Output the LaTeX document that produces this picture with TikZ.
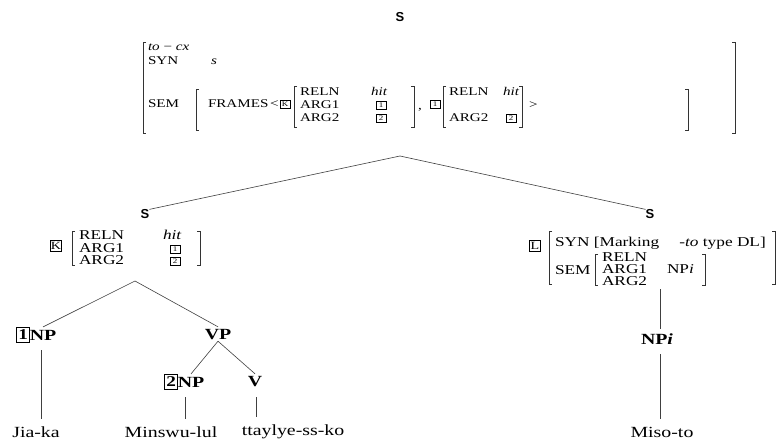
\documentclass[tikz,border=0pt]{standalone}
\usepackage{fontspec}
\setmainfont{Liberation Serif}[FakeStretch=1.28]
\newfontfamily\sansb{Liberation Sans}
\newcommand\myLB[3]{\draw[brk] (#1+3,#2) -- (#1,#2) -- (#1,#3) -- (#1+3,#3);}
\newcommand\myRB[3]{\draw[brk] (#1-3,#2) -- (#1,#2) -- (#1,#3) -- (#1-3,#3);}
\begin{document}
\begin{tikzpicture}[x=1pt,y=-1pt,
 every node/.style={inner sep=0pt, outer sep=0pt},
 sm/.style={font=\fontsize{11.8}{13}\selectfont, anchor=west, text height=8pt, text depth=1.5pt},
 md/.style={font=\fontsize{13.5}{14}\selectfont, anchor=west, text height=8.5pt, text depth=1.5pt},
 cat/.style={font=\fontsize{15.5}{16}\selectfont\bfseries},
 word/.style={font=\fontsize{15.5}{16}\selectfont},
 ssym/.style={font=\sansb\fontsize{13}{14}\selectfont\bfseries},
 tagsm/.style={draw, line width=0.5pt, font=\fontsize{7}{7}\selectfont, minimum width=10pt, minimum height=8pt, inner sep=0.5pt},
 tagmd/.style={draw, line width=0.6pt, font=\fontsize{11}{11}\selectfont, minimum width=11pt, minimum height=11pt},
 tagbg/.style={draw, line width=0.8pt, font=\fontsize{15}{15}\selectfont\bfseries, minimum width=13pt, minimum height=15pt},
 brk/.style={line width=0.7pt, draw=black!80},
 edge/.style={line width=0.6pt, draw=black!75}]
\useasboundingbox[fill=white] (0,0) rectangle (779,441);

% top S
\node[ssym] (topS) at (400,17) {S};

% top AVM
\myLB{143}{42}{133}
\myRB{735}{42}{133}
\node[sm] (tocx) at (148,47) {\textit{to} − \textit{cx}};
\node[sm] (tsyn) at (148,61) {SYN};
\node[sm] (ts) at (211,61) {\textit{s}};
\node[sm] (tsem) at (148,104) {SEM};
\myLB{196}{89}{130}
\node[sm] (frames) at (208,104) {FRAMES};
\node[sm] (lt) at (270,104) {<};
\node[tagsm] (tK) at (285,104) {K};
\myLB{294}{86}{127}
\node[sm] (r1) at (300,92) {RELN};
\node[sm] (h1) at (371,92) {\textit{hit}};
\node[sm] (a11) at (300,105) {ARG1};
\node[tagsm] (t11) at (381,105) {1};
\node[sm] (a12) at (300,118) {ARG2};
\node[tagsm] (t12) at (381,118) {2};
\myRB{414}{86}{127}
\node[sm] (comma) at (418,106) {,};
\node[tagsm] (tL) at (435,104) {1};
\myLB{443}{86}{127}
\node[sm] (r2) at (449,92) {RELN};
\node[sm] (h2) at (503,92) {\textit{hit}};
\node[sm] (a22) at (449,118) {ARG2};
\node[tagsm] (t22) at (511,118) {2};
\myRB{522}{86}{127}
\node[sm] (gt) at (529,105) {>};
\myRB{688}{89}{130}
\coordinate (tavm) at (400,156);

% left S
\node[ssym] (lS) at (145,214) {S};
\node[tagmd] (lK) at (56,246) {K};
\myLB{72}{231}{265}
\node[md] (lr) at (79,236) {RELN};
\node[md] (lh) at (163,236) {\textit{hit}};
\node[md] (la1) at (79,249) {ARG1};
\node[tagsm] (lt1) at (175,249) {1};
\node[md] (la2) at (79,261) {ARG2};
\node[tagsm] (lt2) at (175,261) {2};
\myRB{200}{231}{265}
\coordinate (lavm) at (135,281);

% right S
\node[ssym] (rS) at (650,214) {S};
\node[tagmd] (rL) at (535,246) {L};
\myLB{549}{231}{284}
\node[md] (rsyn) at (555,243) {SYN [Marking\hspace{1.5em}\textit{-to} type DL]};
\myRB{775}{231}{284}
\node[md] (rsem) at (555,271) {SEM};
\myLB{595}{254}{285}
\node[md] (rr) at (602,258) {RELN};
\node[md] (ra1) at (602,270) {ARG1};
\node[md] (rnp) at (667,270) {NP\textit{i}};
\node[md] (ra2) at (602,282) {ARG2};
\myRB{705}{254}{285}
\coordinate (ravm) at (660,289);

% tree labels
\node[cat] (np1) at (43,335) {NP};
\node[tagbg, anchor=east] (b1) at (np1.west) {1};
\node[cat] (vp) at (218,335) {VP};
\node[cat] (np2) at (191,382) {NP};
\node[tagbg, anchor=east] (b2) at (np2.west) {2};
\node[cat] (v) at (255,382) {V};
\node[cat] (npi) at (657,339) {NP\textit{i}};

% words
\node[word] (jia) at (36,432) {Jia-ka};
\node[word] (mins) at (171,432) {Minswu-lul};
\node[word] (tt) at (293,432) {ttaylye-ss-ko};
\node[word] (miso) at (662,432) {Miso-to};

% connectors
\draw[edge] (tavm) -- (lS.north east);
\draw[edge] (tavm) -- (rS.north west);
\draw[edge] (lavm) -- ([yshift=3pt]np1.north);
\draw[edge] (lavm) -- ([yshift=3pt]vp.north);
\draw[edge] ([yshift=-1pt]vp.south) -- ([yshift=3pt]np2.north);
\draw[edge] ([yshift=-1pt]vp.south) -- ([yshift=3pt]v.north);
\draw[edge, shorten <=10pt, shorten >=8pt] ([xshift=-2pt]np1.south) -- ([xshift=-2pt]np1.south |- jia.north);
\draw[edge, shorten <=10pt, shorten >=8pt] ([xshift=-6pt]np2.south) -- ([xshift=-6pt]np2.south |- mins.north);
\draw[edge, shorten <=10pt, shorten >=8pt] ([xshift=1pt]v.south) -- ([xshift=1pt]v.south |- tt.north);
\draw[edge, shorten >=5pt] (ravm) -- (ravm |- npi.north);
\draw[edge, shorten <=10pt, shorten >=8pt] (ravm |- npi.south) -- (ravm |- miso.north);
\end{tikzpicture}
\end{document}
